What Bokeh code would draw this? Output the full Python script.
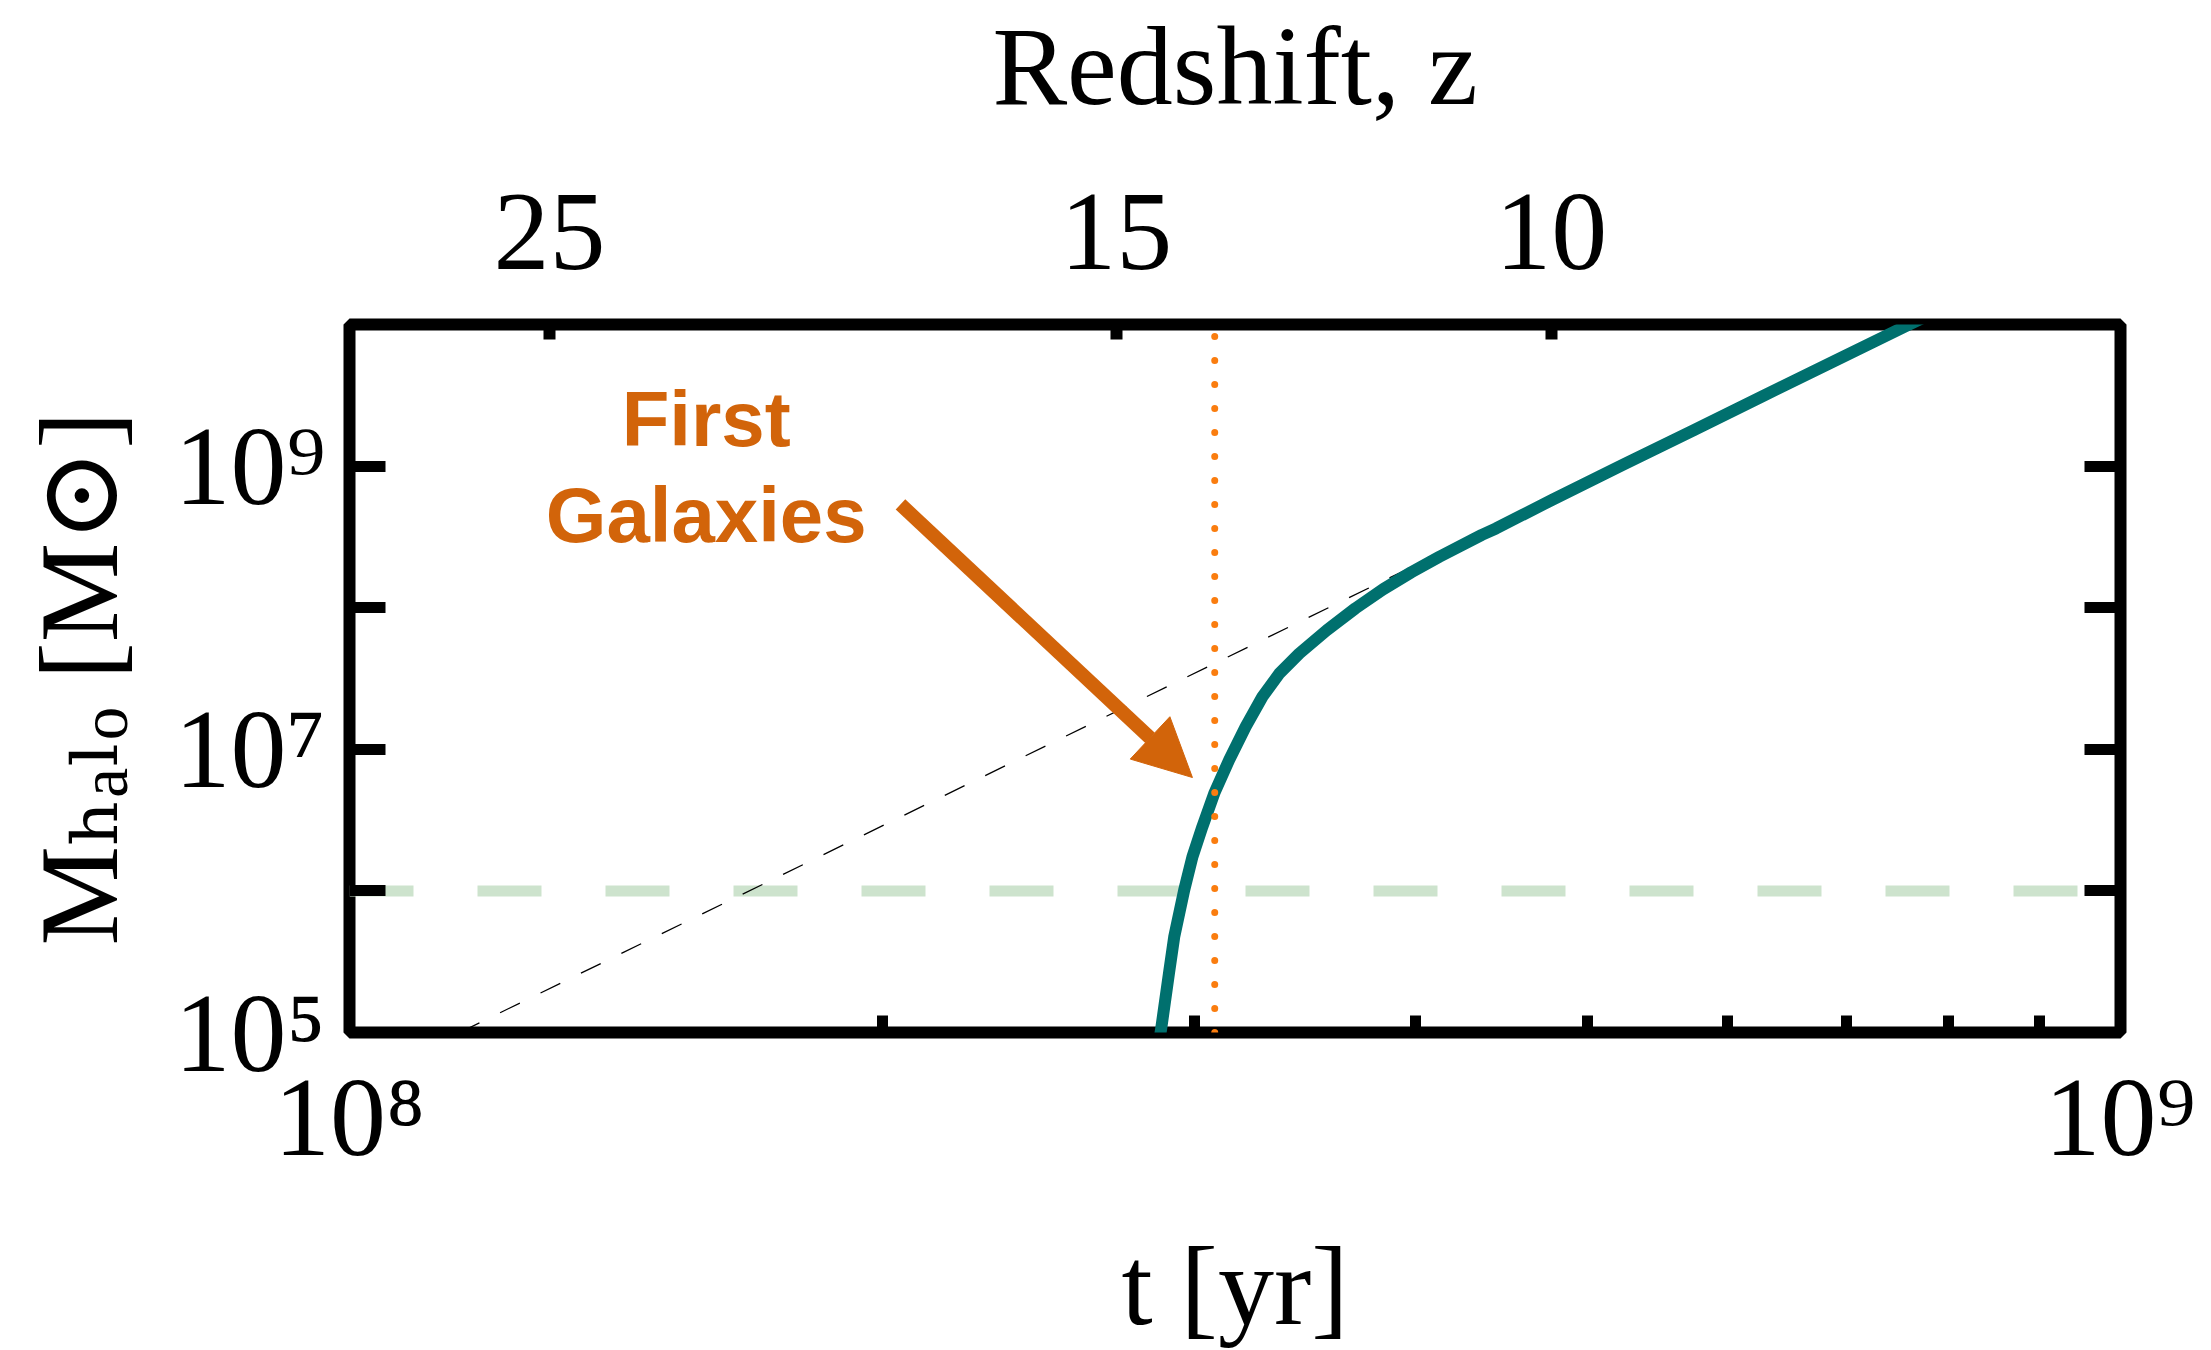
from bokeh.plotting import figure
from bokeh.models import (LogAxis, FixedTicker, CustomJSTickFormatter, Arrow, NormalHead)
from bokeh.core.properties import value
from bokeh.embed import file_html
from bokeh.resources import INLINE

# ---------------- data ----------------
# halo mass growth (teal curve): time [yr], mass [Msun]
halo_t = [2.865e8, 2.874e8, 2.902e8, 2.922e8, 2.960e8, 2.992e8, 3.031e8, 3.078e8,
          3.138e8, 3.206e8, 3.277e8, 3.350e8, 3.438e8, 3.563e8, 3.698e8, 3.834e8,
          3.977e8, 4.125e8, 4.359e8, 4.440e8, 4.776e8, 5.235e8, 5.739e8, 6.289e8,
          6.892e8, 7.584e8, 7.73e8]
halo_m = [8.5e4, 1.10e5, 2.61e5, 4.74e5, 1.01e6, 1.74e6, 2.84e6, 4.88e6,
          8.38e6, 1.44e7, 2.35e7, 3.43e7, 4.75e7, 6.93e7, 9.89e7, 1.35e8,
          1.78e8, 2.29e8, 3.27e8, 3.63e8, 5.78e8, 1.02e9, 1.79e9, 3.15e9,
          5.52e9, 9.89e9, 1.11e10]

# power-law asymptote (thin black dashed)
power_t = [1.154e8, 7.584e8]
power_m = [1.0e5, 1.0e10]

# threshold mass (light green dashed)
threshold_t = [1.0e8, 1.0e9]
threshold_m = [1.0e6, 1.0e6]

# first galaxies time (orange dotted)
first_t = [3.08e8, 3.08e8]
first_m = [1.0e5, 1.0e10]

# axis ticks
x_ticks = [1e8, 1e9]
x_minor = [2e8, 3e8, 4e8, 5e8, 6e8, 7e8, 8e8, 9e8]
x_labels = ["10\u2078", "10\u2079"]
y_ticks = [1e5, 1e6, 1e7, 1e8, 1e9, 1e10]
y_labels = ["10\u2075", "", "10\u2077", "", "10\u2079", ""]
redshift_vals = ["25", "15", "10"]
redshift_t = [1.297e8, 2.71e8, 4.77e8]

# annotation
label_texts = ["First", "Galaxies"]
label_t = [1.59e8, 1.59e8]
label_m = [2.16e9, 4.48e8]
arrow_t = [2.047e8, 2.992e8]
arrow_m = [5.36e8, 6.32e6]

TEAL = "#00706E"
GREEN = "#CDE3CD"
ORANGE_LIGHT = "#FA7D0F"
ORANGE = "#D2640A"
SERIF = "'Liberation Serif', 'DejaVu Serif', serif"

p = figure(x_axis_type="log", y_axis_type="log",
           x_range=(1e8, 1e9), y_range=(1e5, 1e10),
           frame_width=1771, frame_height=708,
           min_border_left=349, min_border_top=324,
           min_border_right=75, min_border_bottom=310,
           output_backend="svg", toolbar_location=None,
           background_fill_color="white", border_fill_color="white")
p.xgrid.visible = False
p.ygrid.visible = False
p.outline_line_color = "black"
p.outline_line_width = 12
p.outline_line_alpha = 1.0

# glyphs
p.line(threshold_t, threshold_m, line_color=GREEN, line_width=11, line_dash="64 64")
p.line(power_t, power_m, line_color="black", line_width=1.3, line_dash="22 23")
p.line(halo_t, halo_m, line_color=TEAL, line_width=12, line_join="round")
p.line(first_t, first_m, line_color=ORANGE_LIGHT, line_width=7, line_dash="0 24",
       line_cap="round")

p.text(x=label_t, y=label_m, text=label_texts, text_font=value("Liberation Sans"),
       text_font_style="bold", text_font_size="78px", text_color=ORANGE,
       text_align="center", text_baseline="alphabetic")

p.add_layout(Arrow(end=NormalHead(size=58, fill_color=ORANGE, line_color=ORANGE, line_width=1),
                   x_start=arrow_t[0], y_start=arrow_m[0], x_end=arrow_t[1], y_end=arrow_m[1],
                   line_color=ORANGE, line_width=14))

def fmt(vals, labs):
    return CustomJSTickFormatter(args=dict(vals=vals, labs=labs), code="""
        for (let i = 0; i < vals.length; i++) {
            if (Math.abs(Math.log10(vals[i]) - Math.log10(tick)) < 1e-4) return labs[i];
        }
        return '';
    """)

def style_axis(ax, tick_in, tick_w, label_size="112px"):
    ax.axis_line_color = None
    ax.major_tick_in = tick_in
    ax.major_tick_out = 0
    ax.major_tick_line_width = tick_w
    ax.major_tick_line_color = "black"
    ax.minor_tick_in = 0
    ax.minor_tick_out = 0
    ax.major_label_text_font = SERIF
    ax.major_label_text_font_size = label_size
    ax.major_label_text_color = "black"
    ax.axis_label_text_font = SERIF
    ax.axis_label_text_font_size = "112px"
    ax.axis_label_text_font_style = "normal"
    ax.axis_label_text_color = "black"

# bottom axis
xb = p.xaxis[0]
xb.ticker = FixedTicker(ticks=x_ticks, minor_ticks=x_minor)
xb.formatter = fmt(x_ticks, x_labels)
style_axis(xb, 17, 11)
xb.minor_tick_in = 17
xb.minor_tick_line_width = 11
xb.minor_tick_line_color = "black"
xb.major_label_standoff = 22
xb.axis_label = "t [yr]"
xb.axis_label_standoff = 42

# left axis
yl = p.yaxis[0]
yl.ticker = FixedTicker(ticks=y_ticks)
yl.formatter = fmt(y_ticks, y_labels)
style_axis(yl, 36, 11)
yl.major_label_standoff = 24
yl.axis_label = "M\u2095\u2090\u2097\u2092 [M\u2299]"
yl.axis_label_standoff = 30

# right axis (mirror ticks)
yr = LogAxis(ticker=FixedTicker(ticks=y_ticks), formatter=fmt(y_ticks, ["" for _ in y_ticks]))
style_axis(yr, 36, 11, label_size="10px")
p.add_layout(yr, "right")

# top axis: redshift
xt = LogAxis(ticker=FixedTicker(ticks=redshift_t), formatter=fmt(redshift_t, redshift_vals))
style_axis(xt, 15, 12)
xt.major_label_standoff = 56
xt.axis_label = "Redshift, z"
xt.axis_label_standoff = 64
p.add_layout(xt, "above")

open("out.html", "w").write(file_html(p, INLINE))
